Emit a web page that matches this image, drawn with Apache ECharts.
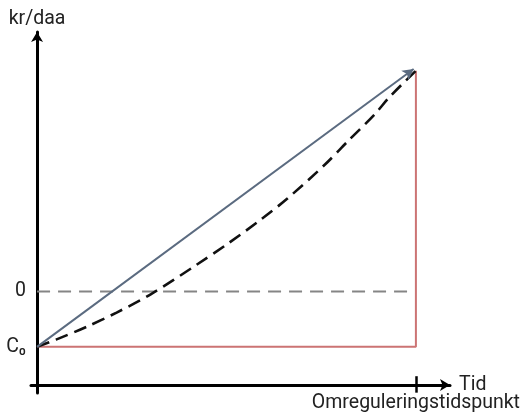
<!DOCTYPE html>
<html>
<head>
<meta charset="utf-8">
<script src="https://cdn.jsdelivr.net/npm/echarts@6/dist/echarts.min.js"></script>
<style>html,body{margin:0;padding:0;background:#fff}#c{width:523px;height:418px}</style>
</head>
<body>
<div id="c"></div>
<script>
// Data (x: time 0..10 where 10 = Omreguleringstidspunkt; y in value units, C0 = -1)
const C0 = -1;
const endValue = 4;
const tEnd = 10;
const curveX = [0, 0.5, 1.3, 2.1, 3.0, 4.2, 5.0, 5.9, 6.6, 7.6, 8.2, 8.9, 9.3, 10];
const curveY = [-1, -0.87, -0.64, -0.38, -0.05, 0.48, 0.85, 1.30, 1.68, 2.30, 2.72, 3.20, 3.52, 4];
const yTickValues = [-1, 0];
const yTickLabels = ['C₀', '0'];
const xTickValues = [10];
const xTickLabels = ['Omreguleringstidspunkt'];
const yAxisName = 'kr/daa';
const xAxisName = 'Tid';

const FONT = 'Roboto';
const FS = 19.5;
const TXT = '#222';
const chart = echarts.init(document.getElementById('c'), null, {renderer: 'canvas'});
const curve = curveX.map((x, i) => [x, curveY[i]]);

chart.setOption({
  animation: false,
  grid: {left: 31, right: 73, top: 32, bottom: 25, containLabel: false, outerBoundsMode: 'none'},
  xAxis: {
    type: 'value', min: -0.16, max: 10.9,
    offset: -8,
    axisLine: {show: true, onZero: false, symbol: ['none', 'arrow'], symbolSize: [9, 10],
      lineStyle: {color: '#000', width: 3}},
    axisTick: {show: false},
    splitLine: {show: false},
    axisLabel: {customValues: xTickValues, formatter: v => xTickLabels[xTickValues.indexOf(v)] || '',
      fontFamily: FONT, fontSize: FS, color: TXT, margin: 8, hideOverlap: false},
    name: xAxisName, nameLocation: 'end', nameGap: 9, nameMoveOverlap: false,
    nameTextStyle: {fontFamily: FONT, fontSize: FS, color: TXT, verticalAlign: 'middle'}
  },
  yAxis: {
    type: 'value', min: -1.836, max: 4.70,
    axisLine: {show: true, onZero: true, symbol: ['none', 'arrow'], symbolSize: [9, 10],
      lineStyle: {color: '#000', width: 3}},
    axisTick: {show: false},
    splitLine: {show: false},
    axisLabel: {customValues: yTickValues, formatter: v => yTickLabels[yTickValues.indexOf(v)] || '',
      fontFamily: FONT, fontSize: FS, color: TXT, margin: 5},
    name: yAxisName, nameLocation: 'end', nameGap: 3, nameMoveOverlap: false,
    nameTextStyle: {fontFamily: FONT, fontSize: FS, color: TXT, align: 'center'}
  },
  series: [
    {
      type: 'line', data: [[0, 0], [tEnd, 0]], symbol: 'none', silent: true,
      lineStyle: {color: '#858585', width: 2, type: [13, 8]}, z: 2
    },
    {
      type: 'line', data: [[0, C0], [tEnd, C0], [tEnd, endValue]], symbol: 'none', silent: true,
      lineStyle: {color: '#cc7474', width: 2}, z: 3
    },
    {
      type: 'line', data: curve, symbol: 'none', smooth: 0.3, silent: true,
      lineStyle: {color: '#111', width: 2.6, type: [13, 7]}, z: 4
    },
    {
      type: 'line', data: [], symbol: 'none', silent: true,
      markLine: {
        silent: true, animation: false,
        label: {show: false},
        emphasis: {disabled: true},
        data: [
          [{coord: [0, C0], symbol: 'none'}, {coord: [tEnd - 0.06, endValue + 0.03], symbol: 'arrow', symbolSize: [9, 11]}],
          [{coord: [tEnd, -1.532], symbol: 'none', lineStyle: {color: '#000', width: 2.5}}, {coord: [tEnd, -1.83], symbol: 'none'}]
        ],
        lineStyle: {color: '#5b6b80', width: 2, type: 'solid'}
      },
      z: 5
    }
  ]
});
</script>
</body>
</html>
